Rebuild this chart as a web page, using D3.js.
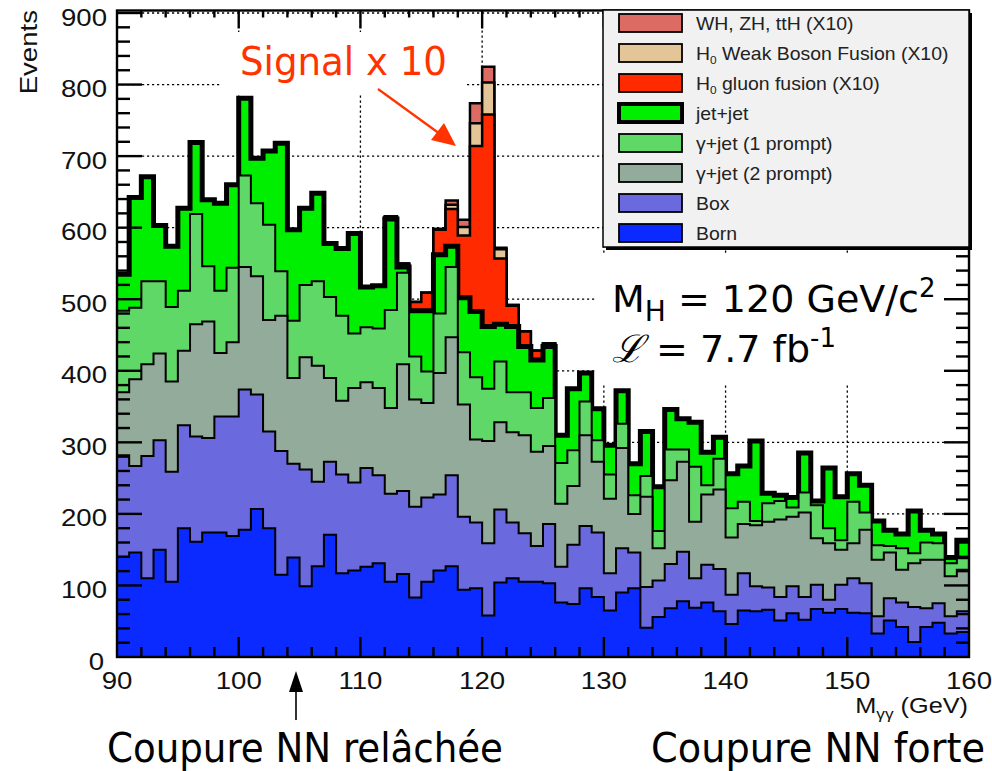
<!DOCTYPE html>
<html><head><meta charset="utf-8">
<script src="https://cdn.jsdelivr.net/npm/d3@7"></script>
<style>html,body{margin:0;background:#fff}</style>
</head><body>
<svg id="chart" width="992" height="771"></svg>
<script>
// Diphoton invariant-mass spectrum, 1 GeV bins from 90 to 160 GeV (events per bin).
const massLow = 90, massHigh = 160;

const born = [140,146,110,150,105,180,161,174,174,169, 178,207,180,115,139,99,127,171,117,121,
  126,131,105,116,83,105,121,127,94,96, 58,104,110,105,105,103,76,74,96,84,
  65,90,96,41,56,68,78,69,76,64, 46,65,64,66,51,61,52,67,62,67, 62,61,33,51,42,21,42,48,33,35];
const box = [142,121,171,153,154,144,147,132,162,167, 196,160,135,173,131,163,118,102,138,123,
  138,123,123,116,127,118,106,127,102,92, 101,102,78,68,50,83,50,83,87,90,
  52,62,50,57,51,62,69,41,53,59, 41,52,35,31,33,38,32,34,18,34, 48,42,24,31,34,49,26,27,24,29];
const gammaJet2 = [88,121,128,121,126,104,157,163,89,104, 171,165,156,189,120,157,162,117,103,132,
  120,122,120,177,150,132,170,193,157,116, 143,122,126,137,132,109,88,82,127,99,
  104,140,54,126,45,117,126,79,98,111, 80,69,85,92,108,97,118,65,79,49, 49,75,79,64,46,61,68,61,56,58];
const gammaJet1 = [114,100,116,101,104,84,154,77,87,104, 128,102,133,62,80,101,118,113,119,76,
  77,83,137,128,60,44,83,98,73,87, 73,85,56,60,61,67,57,50,47,30,
  34,34,26,29,24,43,17,77,13,43, 41,31,6,26,26,13,28,46,21,13, 58,24,20,9,30,14,24,23,18,16];
const jetJet = [51,154,146,78,85,115,100,93,122,116, 108,63,103,179,127,107,123,75,94,140,
  56,60,127,8,64,85,82,29,76,92, 87,52,92,64,67,72,39,86,40,44,
  41,46,44,62,62,56,43,62,46,30, 48,50,112,14,8,14,55,6,84,61, 39,38,34,22,20,59,17,13,8,25];
// Higgs signal (M_H = 120 GeV/c^2), scaled by 10
const gluonFusion = [0,0,0,0,0,0,0,0,0,0, 0,0,0,0,0,0,0,0,0,0,
  0,0,2,4,12,25,35,52,87,231, 296,92,29,21,13,4,0,0,0,0,
  0,0,0,0,0,0,0,0,0,0, 0,0,0,0,0,0,0,0,0,0, 0,0,0,0,0,0,0,0,0,0];
const weakBosonFusion = [0,0,0,0,0,0,0,0,0,0, 0,0,0,0,0,0,0,0,0,0,
  0,0,1,1,0,0,1,6,12,32, 45,13,1,0,0,0,0,0,0,0,
  0,0,0,0,0,0,0,0,0,0, 0,0,0,0,0,0,0,0,0,0, 0,0,0,0,0,0,0,0,0,0];
const associated = [0,0,0,0,0,0,0,0,0,0, 0,0,0,0,0,0,0,0,0,0,
  0,0,1,0,0,0,0,6,10,28, 22,2,0,0,0,0,0,0,0,0,
  0,0,0,0,0,0,0,0,0,0, 0,0,0,0,0,0,0,0,0,0, 0,0,0,0,0,0,0,0,0,0];

const xTickLabels = ["90","100","110","120","130","140","150","160"];
const yTickLabels = ["0","100","200","300","400","500","600","700","800","900"];

// stack order, bottom to top
const layers = [
  {key:"born",  values: born,            color:"#0b2aff", width:2},
  {key:"box",   values: box,             color:"#6a69de", width:2},
  {key:"gj2",   values: gammaJet2,       color:"#93ab9b", width:2},
  {key:"gj1",   values: gammaJet1,       color:"#60d868", width:2},
  {key:"jj",    values: jetJet,          color:"#00ee00", width:5},
  {key:"ggH",   values: gluonFusion,     color:"#ff2a00", width:2.5},
  {key:"vbf",   values: weakBosonFusion, color:"#e3c598", width:2.5},
  {key:"vh",    values: associated,      color:"#dc6c63", width:2.5}
];
const legendItems = [
  {key:"vh",  label:["WH, ZH, ttH (X10)"]},
  {key:"vbf", label:["H","0"," Weak Boson Fusion (X10)"]},
  {key:"ggH", label:["H","0"," gluon fusion (X10)"]},
  {key:"jj",  label:["jet+jet"]},
  {key:"gj1", label:["\u03b3+jet (1 prompt)"]},
  {key:"gj2", label:["\u03b3+jet (2 prompt)"]},
  {key:"box", label:["Box"]},
  {key:"born",label:["Born"]}
];

const svg = d3.select("#chart");
const W = 992, H = 771;
const plot = {left:117, right:969, top:10.5, bottom:657};
const x = d3.scaleLinear().domain([massLow, massHigh]).range([plot.left, plot.right]);
const y = d3.scaleLinear().domain([0, 903.5]).range([plot.bottom, plot.top]);

svg.append("rect").attr("width", W).attr("height", H).attr("fill", "#fff");

// dotted grid
const grid = svg.append("g").attr("stroke", "#000").attr("stroke-width", 1.3)
  .attr("stroke-dasharray", "2.2,2.8").attr("fill", "none");
yTickLabels.slice(1).forEach(t => {
  grid.append("line").attr("x1", plot.left).attr("x2", plot.right)
    .attr("y1", y(+t)).attr("y2", y(+t));
});
xTickLabels.slice(1, -1).forEach(t => {
  grid.append("line").attr("y1", plot.top).attr("y2", plot.bottom)
    .attr("x1", x(+t)).attr("x2", x(+t));
});

// white panels behind the annotations
svg.append("rect").attr("x", 220).attr("y", 32).attr("width", 247).attr("height", 61).attr("fill", "#fff");
svg.append("rect").attr("x", 595).attr("y", 254).attr("width", 362).attr("height", 131).attr("fill", "#fff");

// stacked histogram
const rows = born.map((_, i) => {
  const r = {bin: massLow + i};
  layers.forEach(l => r[l.key] = l.values[i]);
  return r;
});
const stacked = d3.stack().keys(layers.map(l => l.key))(rows);

svg.append("clipPath").attr("id", "plotClip").append("rect")
  .attr("x", plot.left).attr("y", plot.top)
  .attr("width", plot.right - plot.left).attr("height", plot.bottom - plot.top);

const hist = svg.append("g").attr("clip-path", "url(#plotClip)");
const area = d3.area().curve(d3.curveStepAfter)
  .x(d => x(d.edge)).y0(y(0)).y1(d => y(d.top));
const outline = d3.line().curve(d3.curveStepAfter)
  .x(d => x(d.edge)).y(d => y(d.top));

// each layer is painted from zero to its cumulative height, topmost first
stacked.slice().reverse().forEach(s => {
  const layer = layers.find(l => l.key === s.key);
  const pts = s.map((d, i) => ({edge: massLow + i, top: d[1]}));
  pts.push({edge: massHigh, top: s[s.length - 1][1]});
  hist.append("path").attr("d", area(pts)).attr("fill", layer.color);
  hist.append("path").attr("d", outline(pts)).attr("fill", "none")
    .attr("stroke", "#000").attr("stroke-width", layer.width)
    .attr("stroke-linejoin", "miter").attr("stroke-linecap", "square");
});

// frame and ticks
const ax = svg.append("g").attr("stroke", "#000").attr("stroke-width", 2.4);
ax.append("rect").attr("x", plot.left).attr("y", plot.top)
  .attr("width", plot.right - plot.left).attr("height", plot.bottom - plot.top)
  .attr("fill", "none");
for (let v = 20; v < 903; v += 20) {
  const major = v % 100 === 0;
  const L = major ? 25 : 13;
  ax.append("line").attr("x1", plot.left).attr("x2", plot.left + L).attr("y1", y(v)).attr("y2", y(v));
  ax.append("line").attr("x1", plot.right).attr("x2", plot.right - L).attr("y1", y(v)).attr("y2", y(v));
}
for (let m = massLow + 2; m < massHigh; m += 2) {
  const major = m % 10 === 0;
  ax.append("line").attr("x1", x(m)).attr("x2", x(m))
    .attr("y1", plot.bottom).attr("y2", plot.bottom - (major ? 20 : 10));
  ax.append("line").attr("x1", x(m)).attr("x2", x(m))
    .attr("y1", plot.top).attr("y2", plot.top + (major ? 18 : 7));
}

// axis labels (ROOT style: wide Helvetica)
const rootFont = "'Liberation Sans', Arial, sans-serif";
yTickLabels.forEach(t => {
  const v = +t;
  const xr = v === 0 ? 104 : 107;
  svg.append("text").attr("transform", `translate(${xr},${y(v) + 12.5}) scale(1.2,1)`)
    .attr("text-anchor", "end").attr("font-family", rootFont).attr("font-size", 23)
    .attr("fill", "#111").text(t);
});
xTickLabels.forEach(t => {
  svg.append("text").attr("transform", `translate(${x(+t)},${689}) scale(1.2,1)`)
    .attr("text-anchor", "middle").attr("font-family", rootFont).attr("font-size", 23)
    .attr("fill", "#111").text(t);
});
svg.append("text").attr("transform", "translate(37,10) rotate(-90) scale(1.2,1)")
  .attr("text-anchor", "end").attr("font-family", rootFont).attr("font-size", 23)
  .attr("fill", "#111").text("Events");
const xt = svg.append("text").attr("transform", "translate(968,713) scale(1.15,1)")
  .attr("text-anchor", "end").attr("font-family", rootFont).attr("font-size", 22).attr("fill", "#111");
xt.append("tspan").text("M");
xt.append("tspan").attr("dy", 6).attr("font-size", 15).text("\u03b3\u03b3");
xt.append("tspan").attr("dy", -6).text(" (GeV)");

// legend
const leg = svg.append("g");
leg.append("rect").attr("x", 606).attr("y", 13).attr("width", 366).attr("height", 237).attr("fill", "#000");
leg.append("rect").attr("x", 603).attr("y", 10).attr("width", 366).attr("height", 237)
  .attr("fill", "#f1f1f1").attr("stroke", "#000").attr("stroke-width", 1.5);
const rowY = d3.scaleLinear().domain([0, legendItems.length - 1]).range([23, 233]);
legendItems.forEach((it, i) => {
  const layer = layers.find(l => l.key === it.key);
  const cy = rowY(i);
  leg.append("rect").attr("x", 619).attr("y", cy - 9).attr("width", 63).attr("height", 18)
    .attr("fill", layer.color).attr("stroke", "#000").attr("stroke-width", layer.key === "jj" ? 4 : 1.8);
  const t = leg.append("text").attr("transform", `translate(696,${cy + 6.5}) scale(1.08,1)`)
    .attr("font-family", rootFont).attr("font-size", 18).attr("fill", "#222");
  if (it.label.length === 1) t.text(it.label[0]);
  else {
    t.append("tspan").text(it.label[0]);
    t.append("tspan").attr("dy", 4).attr("font-size", 11).text(it.label[1]);
    t.append("tspan").attr("dy", -4).text(it.label[2]);
  }
});

// annotations
const noteFont = "'DejaVu Sans Condensed', 'DejaVu Sans', sans-serif";
const noteWide = "'DejaVu Sans', sans-serif";
svg.append("text").attr("x", 240).attr("y", 75).attr("font-family", noteFont).attr("font-size", 39)
  .attr("fill", "#ff3300").attr("textLength", 207).attr("lengthAdjust", "spacingAndGlyphs").text("Signal x 10");
svg.append("line").attr("x1", 378).attr("y1", 89).attr("x2", 440).attr("y2", 134)
  .attr("stroke", "#ff3300").attr("stroke-width", 2.2);
svg.append("path").attr("d", "M456,146 L431,140 L444,123 Z").attr("fill", "#ff3300");

const mh = svg.append("text").attr("x", 612).attr("y", 312).attr("font-family", noteWide)
  .attr("font-size", 38).attr("fill", "#000");
mh.append("tspan").text("M");
mh.append("tspan").attr("dy", 9).attr("font-size", 28).text("H");
mh.append("tspan").attr("dy", -9).text(" = 120 GeV/c");
mh.append("tspan").attr("dy", -15).attr("font-size", 26).text("2");
const lum = svg.append("text").attr("x", 612).attr("y", 362).attr("font-family", noteWide)
  .attr("font-size", 38).attr("fill", "#000");
lum.append("tspan").attr("font-family", "'DejaVu Serif', serif").attr("font-style", "italic").text("\u2112");
lum.append("tspan").text(" = 7.7 fb");
lum.append("tspan").attr("dy", -15).attr("font-size", 26).text("-1");

svg.append("line").attr("x1", 296).attr("y1", 720).attr("x2", 296).attr("y2", 688)
  .attr("stroke", "#000").attr("stroke-width", 1.6);
svg.append("path").attr("d", "M296,671 L303,692 L289,692 Z").attr("fill", "#000");
svg.append("text").attr("x", 107).attr("y", 762).attr("font-family", noteFont).attr("font-size", 40)
  .attr("fill", "#000").attr("textLength", 396).attr("lengthAdjust", "spacingAndGlyphs").text("Coupure NN rel\u00e2ch\u00e9e");
svg.append("text").attr("x", 651).attr("y", 762).attr("font-family", noteFont).attr("font-size", 40)
  .attr("fill", "#000").attr("textLength", 334).attr("lengthAdjust", "spacingAndGlyphs").text("Coupure NN forte");
</script>
</body></html>
